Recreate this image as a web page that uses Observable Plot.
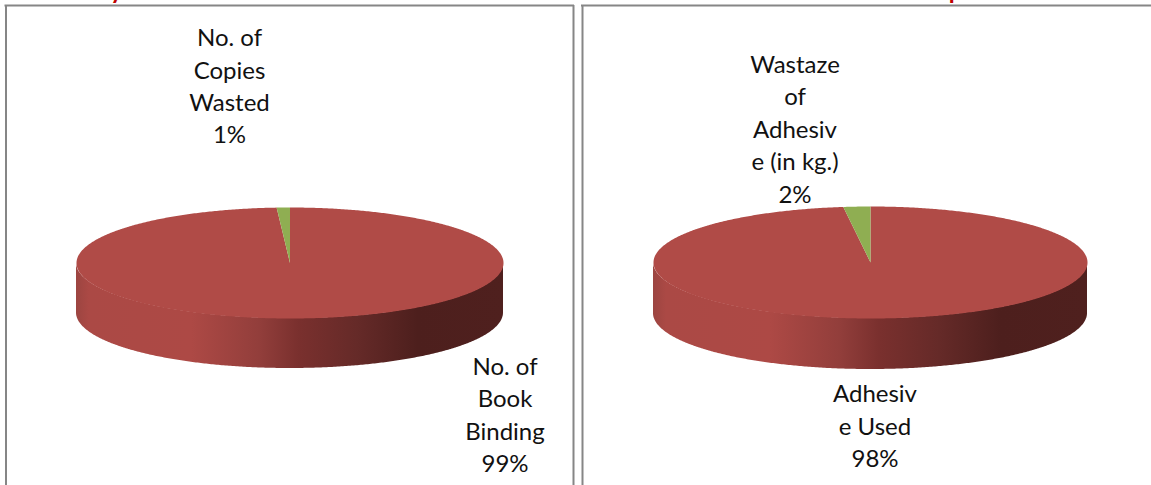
<!DOCTYPE html>
<html>
<head>
<meta charset="utf-8">
<script src="https://cdn.jsdelivr.net/npm/d3@7"></script>
<script src="https://cdn.jsdelivr.net/npm/@observablehq/plot@0.6"></script>
<style>
  html, body { margin: 0; padding: 0; background: #fff; overflow: hidden; }
  svg { display: block; }
</style>
</head>
<body>
<div id="chart"></div>
<script>
// Shares of each pie, in percent
const bindingNames = ["No. of Book Binding", "No. of Copies Wasted"];
const bindingShares = [99, 1];
const adhesiveNames = ["Adhesive Used", "Wastaze of Adhesive (in kg.)"];
const adhesiveShares = [98, 2];

// Data labels, wrapped the way the chart boxes wrap them
const bindingLabels = ["No. of\nBook\nBinding\n99%", "No. of\nCopies\nWasted\n1%"];
const adhesiveLabels = ["Adhesiv\ne Used\n98%", "Wastaze\nof\nAdhesiv\ne (in kg.)\n2%"];

const W = 1151, H = 485;
const FACE = "#b04b47", SMALL = "#8fae52", FRAME = "#868686", TITLE = "#c00000";

// Pie layouts in plot units; anchors are the centres of the label blocks
const pies = [
  {id: "wall-a", cx: 289.5, cy: 262.5, rx: 213.5, ry: 55.5, depth: 50, names: bindingNames, shares: bindingShares, labels: bindingLabels,
   anchors: [[504.5, 412.5], [229, 84]]},
  {id: "wall-b", cx: 870, cy: 262, rx: 217, ry: 56, depth: 51, names: adhesiveNames, shares: adhesiveShares, labels: adhesiveLabels,
   anchors: [[874.5, 424], [794.5, 127]]}
];

const rad = (t) => t * Math.PI / 180;

// Point on the tilted disc rim, clockwise from 12 o'clock
function rim(p, deg) {
  return {x: p.cx + p.rx * Math.sin(rad(deg)), y: p.cy - p.ry * Math.cos(rad(deg))};
}

// Closed sector polygon between two angles
function sector(p, from, to) {
  const pts = [{x: p.cx, y: p.cy}];
  const n = Math.max(4, Math.ceil((to - from) * 2));
  for (let i = 0; i <= n; ++i) pts.push(rim(p, from + (to - from) * i / n));
  pts.push({x: p.cx, y: p.cy});
  return pts;
}

// Visible front wall: the lower half of the rim, dropped by the disc depth
function wall(p) {
  const pts = [];
  for (let deg = 90; deg <= 270; deg += 0.5) {
    const q = rim(p, deg);
    pts.push({x: q.x, y1: q.y, y2: q.y + p.depth});
  }
  return pts;
}

// Horizontal shading of the wall
const wallStops = [[0, "#9c4541"], [0.03, "#ab4945"], [0.27, "#ad4945"], [0.43, "#923e3b"], [0.52, "#7a302e"], [0.66, "#652a28"], [0.8, "#4d1f1d"], [1, "#4f201e"]];
const wallDefs = () => {
  const defs = d3.create("svg:defs");
  for (const p of pies) {
    const g = defs.append("linearGradient").attr("id", p.id).attr("x1", 0).attr("x2", 1).attr("y1", 0).attr("y2", 0);
    for (const [o, c] of wallStops) g.append("stop").attr("offset", o).attr("stop-color", c);
  }
  return defs.node();
};

const marks = [wallDefs];

// Chart frames: each box runs past the page edge where it is cropped
marks.push(
  Plot.ruleX([5.5, 573], {y1: 5, y2: H, stroke: FRAME, strokeWidth: 2}),
  Plot.ruleX([582], {y1: 5, y2: H, stroke: FRAME, strokeWidth: 2}),
  Plot.ruleY([5], {x1: 4.5, x2: 574, stroke: FRAME, strokeWidth: 2}),
  Plot.ruleY([5], {x1: 581, x2: W, stroke: FRAME, strokeWidth: 2})
);

// Heading lines above the frames, only their descenders reach the page
marks.push(
  Plot.text(["y"], {x: 116, y: -2, text: (d) => d, lineAnchor: "bottom", fill: TITLE, fontWeight: 700, fontSize: 24, fontFamily: "Lato"}),
  Plot.text(["p"], {x: 955, y: -2, text: (d) => d, lineAnchor: "bottom", fill: TITLE, fontWeight: 700, fontSize: 24, fontFamily: "Lato"})
);

for (const p of pies) {
  const total = d3.sum(p.shares);
  const large = 360 * p.shares[0] / total;
  marks.push(
    Plot.areaY(wall(p), {x: "x", y1: "y1", y2: "y2", fill: `url(#${p.id})`, curve: "linear"}),
    Plot.line(sector(p, 0, large), {x: "x", y: "y", fill: FACE, stroke: "none", curve: "linear"}),
    Plot.line(sector(p, large, 360), {x: "x", y: "y", fill: SMALL, stroke: "none", curve: "linear"}),
    Plot.text(p.labels.map((text, i) => ({text, x: p.anchors[i][0], y: p.anchors[i][1]})), {
      x: "x", y: "y", text: "text", lineAnchor: "middle", textAnchor: "middle",
      fontFamily: "Lato", fontSize: 24, lineHeight: 1.35, fill: "#111"
    })
  );
}

const chart = Plot.plot({
  width: W, height: H,
  margin: 0,
  x: {domain: [0, W], range: [0, W], axis: null},
  y: {domain: [0, H], range: [0, H], axis: null},
  style: {background: "#fff"},
  marks
});
document.getElementById("chart").append(chart);
</script>
</body>
</html>
